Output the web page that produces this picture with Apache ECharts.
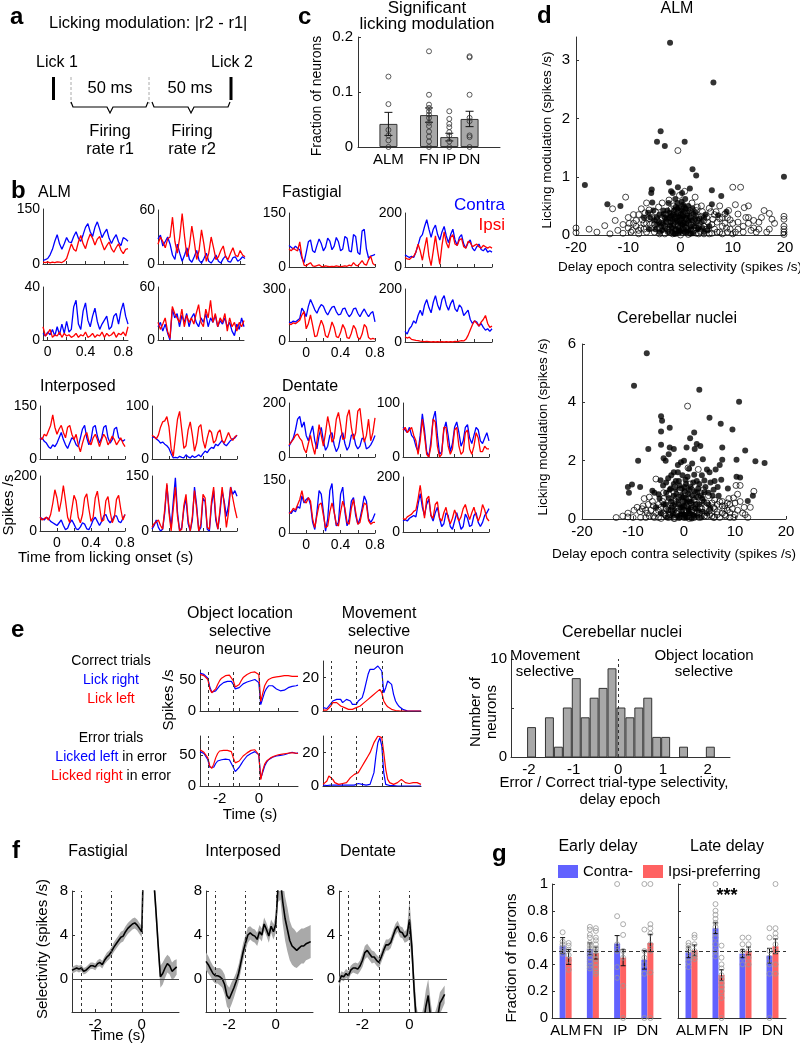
<!DOCTYPE html>
<html><head><meta charset="utf-8">
<script src="https://cdn.jsdelivr.net/npm/echarts@6/dist/echarts.min.js"></script>
<style>html,body{margin:0;padding:0;background:#fff}#c{width:800px;height:1044px}</style>
</head><body><div id="c"></div><script>
const FONT='"Liberation Sans", Arial, Helvetica, sans-serif';
const BLUE='#0000ff', RED='#ff0000';

// ---------- panel c data
const cCats=['ALM','FN','IP','DN'];
const cMean=[0.042,0.058,0.018,0.051];
const cSem=[0.021,0.013,0.007,0.014];
const cDots=[[0.128,0.078,0.031,0.021,0.012,0],
 [0.174,0.095,0.077,0.071,0.065,0.059,0.053,0.044,0.038,0.028,0.019,0.010,0],
 [0.065,0.051,0.042,0.036,0.027,0.021,0.010,0],
 [0.165,0.163,0.095,0.053,0.047,0.021,0.018,0]];

// ---------- panel d data
const dAlmSig=[[-2,3.3],[6.3,2.62],[-3.8,1.78],[-4.5,1.6],[-3,1.53],[0.8,1.6],[2.3,1.13],[3,1.02],[-2.2,0.9],[-18.3,0.86],[19.8,1.0],[-1.8,0.75],[-1.5,0.72],[-0.5,0.82],[0.3,0.72],[1.8,0.8],[6,0.77],[7.8,0.67],[-5.5,0.78],[-5.6,0.72],[-5.4,0.56],[-14,0.53],[-11.5,0.5],[6,0.53],[8.8,0.4],[-6.2,0.38],[-1,0.62],[0.2,0.57],[-0.3,0.47],[1,0.45],[-2.5,0.42],[-4,0.35],[2.5,0.36],[7.2,0.34],[-3,0.3],[0.5,0.32],[-1.5,0.27],[1.5,0.24],[-0.5,0.22],[3,0.2],[-2,0.16],[0.8,0.15],[-1,0.1],[2,0.1],[-3.5,0.08],[0,0.05],[1.2,0.05],[-0.8,0.36],[-1.2,0.43],[0.6,0.4],[-0.1,0.3],[-2.8,0.22],[-4.5,0.18],[-5,0.25],[4,0.22],[3.5,0.12],[-0.4,0.12],[0.3,0.18],[1.8,0.3],[-1.8,0.33],[-3.3,0.42],[2.8,0.28],[-0.6,0.55],[0.9,0.62],[-2.3,0.55],[1.5,0.5],[4.8,0.35],[-6,0.1],[5.5,0.15],[-7,0.3],[0.1,0.42],[-1.6,0.05],[2.4,0.03],[-4,0.05],[4.5,0.05],
 [-5.2,0.42],[-4.6,0.3],[-4.1,0.22],[-3.7,0.15],[-3.2,0.36],[-2.9,0.12],[-2.6,0.28],[-2.4,0.05],[-2.1,0.38],[-1.9,0.22],[-1.7,0.12],[-1.4,0.35],[-1.3,0.18],[-1.1,0.28],[-0.9,0.02],[-0.7,0.25],[-0.6,0.45],[-0.4,0.32],[-0.2,0.08],[0,0.2],[0.1,0.36],[0.3,0.28],[0.4,0.1],[0.6,0.22],[0.7,0.48],[0.9,0.3],[1.1,0.2],[1.3,0.33],[1.4,0.08],[1.6,0.4],[1.9,0.15],[2.1,0.25],[2.3,0.45],[2.6,0.15],[2.9,0.38],[3.3,0.1],[3.6,0.28],[4.2,0.12],[-3.4,0.2],[-2.2,0.3],[-0.3,0.05],[0.8,0.05],[-1.2,0.02],[1.9,0.02],[-5.8,0.3],[-4.8,0.1],[4.5,0.3],[5.2,0.08],[-0.9,0.48],[0.5,0.52]];
const dAlmNs=[[-0.5,1.45],[-20,0.12],[-20,0.04],[-17.5,0.1],[-14.5,0.16],[-13,0.45],[-12.5,0.25],[-10.5,0.65],[-7.5,0.45],[-7.3,0.26],[-6,0.43],[-10,0.12],[-9.5,0.05],[-8.5,0.15],[-8,0.08],[-11,0.03],[-9,0.2],[10,0.82],[11.5,0.82],[10.5,0.52],[12.2,0.47],[13,0.5],[11,0.36],[12.5,0.3],[14,0.25],[15.5,0.3],[16,0.42],[17,0.37],[17.5,0.27],[18,0.2],[19.8,0.32],[19.8,0.27],[19.8,0.15],[19.8,0.1],[19.8,0.05],[19.8,0.01],[15,0.1],[16.5,0.05],[13.5,0.08],[11,0.1],[9,0.05],[8,0.15],[7,0.22],[5.5,0.46],[4,0.5],[3,0.42],[5,0.3],[4.5,0.15],[9.5,0.26],[8.5,0.36],[6.5,0.1],[12,0.15],[14.5,0.05],[17,0.1],[10,0.2],[9.2,0.42],[7.5,0.5],[6.2,0.27],[2.2,0.55],[-2.2,0.6],[-3.5,0.55],[-4.8,0.4],[-5.5,0.3],[-6.5,0.2],[-7,0.1],[-5,0.05],[-3,0.02],[-1.5,0.02],[0,0.0],[1.5,0.01],[3,0.03],[4.5,0.02],[6,0.03],[7.5,0.05],[-4,0.12],[-2.5,0.1],[-1,0.18],[0.5,0.1],[2,0.18],[3.5,0.3],[2.5,0.08],[-3.8,0.25],[-2,0.3],[-0.5,0.38],[1,0.28],[1.2,0.38],[-1.3,0.5],[0.2,0.48],[1.8,0.42],[-2.8,0.35],[3.2,0.25],[4.2,0.4],[5.2,0.22],[6.8,0.4],[8,0.3],[-8,0.35],[-6.5,0.55],[-9,0.35],[-4.2,0.48],[0.8,0.75],[-0.2,0.68],[-1.8,0.45],[2.8,0.65],[0.5,0.2],[-0.8,0.08],[1,0.12],[3.8,0.06],[-5.8,0.18],[8.8,0.12],[10.5,0.05],[13,0.2],[15,0.22],[-12,0.08],[-13.5,0.02],[-16,0.05],
 [-11,0.18],[-10,0.3],[-9.2,0.08],[-8.5,0.25],[-7.6,0.12],[-7,0.2],[-6.5,0.05],[-6,0.28],[-5.5,0.12],[-5,0.18],[-4.5,0.26],[-4,0.02],[-3.5,0.3],[-3,0.15],[-2.5,0.22],[-2,0.05],[-1.5,0.15],[-1,0.3],[-0.5,0.15],[0,0.25],[0.5,0.35],[1,0.05],[1.5,0.2],[2,0.3],[2.5,0.25],[3,0.12],[3.5,0.02],[4,0.32],[4.5,0.25],[5,0.1],[5.5,0.02],[6,0.18],[6.5,0.35],[7,0.05],[7.5,0.28],[8,0.02],[8.5,0.2],[9,0.3],[9.5,0.1],[10,0.02],[11,0.22],[12,0.05],[13,0.3],[14,0.12],[-8,0.02],[-9.8,0.2],[-6.8,0.38],[5.8,0.4],[3.2,0.48],[-1.2,0.4]];
const dCnSig=[[-1.5,6.03],[-7.3,5.68],[-9.8,4.57],[3,4.43],[10.8,4.02],[-4.5,3.52],[-4.3,3.37],[-2.8,3.13],[-4.5,3.0],[5,3.47],[7.2,3.27],[9.5,3.07],[2,2.97],[1.2,2.77],[-4.5,2.55],[-7,2.4],[-2.8,2.45],[-2,2.4],[0.5,2.45],[2.5,2.57],[3.2,2.5],[2.1,2.4],[7.5,2.45],[12,2.35],[14,1.98],[15.8,1.92],[-9,2.0],[-4,2.08],[-3.6,2.0],[-3,2.22],[10.3,2.03],[7.5,2.03],[3.7,2.05],[0,2.0],[-0.6,1.95],[-1.2,1.85],[1.6,1.9],[1,1.72],[-2,1.6],[-2.5,1.5],[-3.1,1.4],[-11,1.1],[-10.8,0.9],[-10.2,1.18],[-8.6,1.1],[-6.2,0.97],[-5,0.85],[-4.1,1.15],[-4.6,1.33],[-3.5,1.25],[5,1.6],[6.2,1.7],[7,1.85],[7.3,1.35],[8.6,1.05],[10.3,1.45],[11,1.42],[12.5,0.62],[13.5,0.8],[5.2,1.25],[6.6,1.1],[4,1.32],[3,1.2],[2,1.52],[-1,1.3],[0.1,1.1],[-1.6,1.02],[1,1.0],[2.6,0.92],[4,0.92],[5.6,0.8],[-2,0.8],[-3,0.72],[-1.2,1.6],[0.7,1.45],[1.8,1.25],[-0.3,1.5],[3.5,1.5],[4.5,1.7],[-2.6,1.05],[6,1.3],[-0.5,0.8],[0.4,0.7],[1.5,0.6],[2.3,0.5],[-1,0.5],[-0.3,0.4],[0.8,0.35],[-1.8,0.3],[1.2,0.2],[-0.7,0.15],[2.8,0.3],[3.6,0.7],[-3.6,0.5],[-4.8,0.7],[0,0.6],[4.8,0.5],[6.8,0.8],[-5.5,0.4],[2,0.1],[-2.3,0.1],[0.3,0.05],
 [-4.5,0.2],[-4,0.5],[-3.5,0.9],[-3,0.3],[-2.8,1.0],[-2.5,0.6],[-2.2,0.2],[-2,1.2],[-1.8,0.5],[-1.5,0.85],[-1.3,0.1],[-1.1,0.65],[-0.9,1.15],[-0.7,0.4],[-0.5,1.05],[-0.4,0.25],[-0.2,0.75],[0,0.45],[0.1,0.95],[0.2,0.15],[0.4,1.2],[0.5,0.55],[0.6,0.05],[0.8,0.85],[0.9,0.3],[1.1,0.6],[1.3,1.1],[1.4,0.4],[1.6,0.8],[1.8,0.15],[2,0.95],[2.2,0.35],[2.4,0.75],[2.6,0.1],[2.8,1.05],[3,0.5],[3.3,0.8],[3.6,0.25],[3.9,0.6],[4.2,1.1],[4.5,0.2],[4.8,0.9],[5.2,0.35],[-3.3,0.05],[-0.8,0.05],[1.5,0.02],[-1.6,1.3],[0.3,1.35],[2.5,1.3],[-5.8,0.9],[5.8,1.0],[-2.4,0.4],[-0.1,0.15],[1,0.2],[3.4,0.05]];
const dCnNs=[[0.7,3.87],[-5.5,1.37],[2.8,1.7],[0.8,1.75],[-13.3,0.05],[-11,0.2],[-11,0.07],[-9.2,0.4],[-8.6,0.25],[-8.2,0.35],[-7.2,0.2],[-7,0.5],[-6.2,0.6],[-6.5,0.3],[-6,0.1],[-5,0.3],[-4.5,0.02],[10.5,0.85],[9.7,0.72],[10.2,1.15],[11,1.15],[13.7,0.95],[13,0.4],[12.5,0.05],[11.5,0.2],[10,0.55],[11,0.6],[9,0.5],[8.5,0.3],[8,0.45],[7,0.6],[7.5,0.2],[9,0.22],[6,0.35],[5,0.15],[-7.5,0.05],[-8,0.45],[-5.8,0.05],[-3.2,0.3],[-2.5,0.55],[-1.5,0.7],[0.2,0.9],[1.5,1.0],[2.8,0.75],[4.2,0.4],[3,0.05],[1,0.02],[-1,0.05],[-2,0.02],[4.5,0.1],[6,0.06],[7.5,0.6],[8.2,0.1],[10.5,0.3],[12,0.15],[-4,0.2],[-3.5,0.1],[-1.3,0.25],[-0.5,0.1],[0.5,0.25],[1.8,0.4],[2.5,0.2],[3.5,0.35],[5.5,0.55],[6.5,0.15],[-2.2,0.45],[-4.2,0.6],[-0.2,0.6],[1.3,0.55],[3.2,0.9],[4.8,0.8],[-5,0.5],[-6.8,0.75],[-3,0.85],[9.8,0.05],[8.8,0.7],[7.8,0.35],[-9.8,0.3],[-12,0.1],[-10,0.05],[-2.8,0.15],[0,0.3],[2,0.65],[5.8,0.05],[11.8,0.4],[-7.8,0.7],[-1.8,1.1],[1.2,1.2],[-0.8,1.0],[3.8,1.0],[-8.5,0.05],[-4,0.9],[6.5,0.5],
 [-7.5,0.3],[-6.8,0.1],[-6,0.45],[-5.5,0.2],[-5,0.05],[-4.5,0.4],[-4,0.7],[-3.5,0.35],[-3,0.05],[-2.5,0.3],[-2,0.6],[-1.5,0.2],[-1,0.75],[-0.5,0.3],[0,0.05],[0.5,0.45],[1,0.7],[1.5,0.3],[2,0.05],[2.5,0.5],[3,0.2],[3.5,0.65],[4,0.1],[4.5,0.55],[5,0.3],[5.5,0.1],[6,0.65],[6.5,0.25],[7,0.05],[7.5,0.45],[8,0.15],[8.5,0.55],[9,0.05],[9.5,0.35],[10,0.15],[-1.8,0.02],[0.8,0.1],[3.2,0.4],[-3.8,0.15],[5.8,0.4]];

// ---------- panel b data (time from licking onset, s)
const tAlmB=[-0.05,-0.025,0,0.025,0.05,0.075,0.1,0.125,0.15,0.175,0.2,0.225,0.25,0.275,0.3,0.325,0.35,0.375,0.4,0.425,0.45,0.475,0.5,0.525,0.55,0.575,0.6,0.625,0.65,0.675,0.7,0.725,0.75,0.775,0.8,0.825,0.85];
const tB=[-0.2,-0.175,-0.15,-0.125,-0.1,-0.075,-0.05,-0.025,0,0.025,0.05,0.075,0.1,0.125,0.15,0.175,0.2,0.225,0.25,0.275,0.3,0.325,0.35,0.375,0.4,0.425,0.45,0.475,0.5,0.525,0.55,0.575,0.6,0.625,0.65,0.675,0.7,0.725,0.75,0.775,0.8];
const alm1Blue=[10,12,15,25,40,62,80,55,40,55,72,60,58,75,88,70,62,80,100,110,88,75,100,115,95,72,85,95,70,56,70,80,60,50,72,68,62];
const alm1Red=[5,4,6,3,5,4,6,5,4,8,15,35,55,40,35,60,78,55,42,65,82,70,52,68,75,55,38,50,60,42,32,45,55,38,28,40,42];
const alm2Blue=[28,32,20,25,30,22,10,5,22,12,3,10,18,5,2,8,15,4,1,6,12,3,1,5,10,3,1,6,9,3,2,7,8,3,5,8,6];
const alm2Red=[22,30,25,18,28,30,52,25,12,30,56,30,8,20,42,25,5,15,38,22,3,12,30,18,5,8,15,20,8,5,12,18,10,8,15,10,8];
const alm3Blue=[5,3,6,4,8,3,10,4,12,5,14,6,8,25,30,12,8,22,28,15,10,18,24,14,8,12,15,18,8,10,18,20,12,22,28,18,12];
const alm3Red=[10,3,5,8,2,4,3,6,2,5,3,4,2,3,5,2,4,3,6,2,3,5,2,4,3,6,2,5,3,4,6,2,5,4,6,3,10];
const alm4Blue=[15,20,10,18,8,0,35,25,30,15,28,20,30,15,25,30,20,15,25,20,30,15,25,20,28,15,22,18,25,15,20,10,5,18,12,25,15];
const alm4Red=[20,12,18,25,10,2,38,30,25,20,35,15,28,20,25,18,30,40,20,15,35,25,45,20,30,15,25,20,30,10,25,15,20,10,20,15,22];
const fn1Blue=[60,55,50,58,52,48,25,12,40,70,75,45,40,60,78,65,45,55,80,72,48,58,82,70,45,50,85,80,45,42,90,85,40,35,100,105,50,25,30,32,35];
const fn1Red=[50,45,52,48,45,70,30,5,3,8,12,3,2,4,6,2,1,3,2,1,2,1,3,2,1,2,3,2,5,3,12,5,3,10,18,8,5,20,30,10,5];
const fn2Blue=[45,40,35,40,35,55,80,110,120,150,175,140,110,140,155,120,100,130,150,115,90,120,140,100,80,110,120,85,70,90,100,70,60,75,85,65,60,70,55,60,55];
const fn2Red=[35,30,28,35,40,55,85,60,25,70,110,40,5,60,115,60,10,80,130,90,70,110,120,85,80,100,105,75,70,95,90,75,80,85,75,70,80,75,70,75,70];
const fn3Blue=[110,105,115,110,120,130,190,170,140,200,240,210,180,160,190,210,200,170,150,175,195,200,170,150,155,185,190,160,140,155,185,190,160,140,165,185,160,140,160,170,110];
const fn3Red=[100,95,105,100,110,120,150,170,70,100,150,90,25,30,80,120,90,30,20,60,110,80,25,20,50,95,70,20,15,45,90,70,20,10,40,95,80,20,10,15,10];
const fn4Blue=[40,30,50,60,80,70,100,120,100,140,160,130,110,150,175,140,120,160,175,140,120,145,160,125,115,140,130,100,110,120,85,70,80,75,60,70,55,45,50,40,50];
const fn4Red=[20,15,18,10,8,6,5,3,2,1,2,1,0,1,0,1,0,1,0,1,0,1,0,2,1,3,5,4,10,25,45,65,80,70,60,75,85,100,70,55,60];
const ip1Blue=[55,60,50,45,35,30,40,35,45,60,75,55,40,30,45,60,55,40,35,60,85,95,60,40,55,90,95,65,45,60,90,95,60,45,55,85,90,60,55,50,55];
const ip1Red=[60,55,70,65,80,95,125,90,70,85,95,75,60,90,95,70,55,70,40,20,45,65,75,50,40,60,70,55,35,55,70,60,40,50,65,55,40,50,60,45,35];
const ip2Blue=[40,42,38,35,30,32,28,25,20,10,2,3,2,5,3,2,8,4,2,6,3,5,8,4,10,15,12,18,22,20,28,25,30,35,28,25,30,35,38,40,45];
const ip2Red=[45,42,38,45,60,70,72,80,60,20,5,40,75,90,55,20,25,55,70,45,15,30,60,65,35,20,40,55,50,30,35,50,55,35,30,40,50,40,35,42,45];
const ip3Blue=[50,45,40,50,45,35,30,25,20,30,40,20,5,10,30,40,25,8,5,15,30,25,8,5,20,40,50,35,20,35,55,60,40,30,40,55,55,35,30,45,60];
const ip3Red=[50,40,45,50,40,60,100,150,120,70,110,165,110,50,30,80,130,110,50,30,60,120,135,80,35,50,120,145,90,35,40,110,125,70,30,50,115,130,80,40,60];
const ip4Blue=[5,15,30,10,0,5,50,125,60,10,80,145,50,0,10,60,90,20,0,30,120,70,0,10,90,80,5,0,70,110,30,5,50,110,80,40,70,120,100,110,95];
const ip4Red=[10,20,25,30,15,5,60,130,50,0,60,120,40,0,5,70,100,30,0,40,110,60,0,20,100,90,10,5,80,120,40,5,60,120,70,10,50,120,90,60,35];
const dn1Blue=[40,55,70,100,140,150,110,130,80,60,90,115,60,30,80,110,60,25,40,80,90,45,20,35,75,90,50,25,40,80,85,45,30,40,70,65,30,35,45,60,80];
const dn1Red=[45,55,65,80,85,70,60,30,15,50,80,40,10,60,120,80,40,90,150,110,55,70,140,165,120,65,70,150,175,110,65,90,170,180,110,55,80,140,60,90,145];
const dn2Blue=[55,50,45,55,40,35,20,10,40,80,50,10,0,30,70,85,40,5,10,50,65,40,10,25,55,65,45,20,30,55,60,35,25,40,55,50,30,25,35,45,30];
const dn2Red=[50,55,45,50,55,40,30,5,30,70,40,5,0,20,70,65,20,0,5,55,55,20,5,15,50,55,20,5,10,45,50,15,5,20,45,35,10,10,20,15,15];
const dn3Blue=[60,55,65,60,75,70,105,85,95,100,80,30,10,60,120,110,60,5,40,120,140,60,20,30,110,130,60,20,40,90,100,50,25,40,70,105,90,40,30,40,55];
const dn3Red=[55,60,70,65,80,95,120,90,85,100,90,40,15,50,80,85,50,15,20,60,85,60,25,20,60,90,70,30,25,70,95,60,25,30,60,85,80,35,25,30,30];
const dn4Blue=[40,45,40,50,55,60,55,100,140,90,60,100,120,60,40,70,90,50,20,30,70,60,20,10,40,70,40,10,20,65,50,20,25,60,70,35,20,35,60,70,85];
const dn4Red=[50,45,55,60,65,75,80,120,170,110,50,120,130,60,50,100,110,50,40,70,90,50,30,50,80,60,40,55,85,100,70,45,70,90,60,40,60,100,80,50,40];

// ---------- panel e data (time from go cue, s)
const tE=[-3,-2.9,-2.8,-2.7,-2.6,-2.5,-2.4,-2.3,-2.2,-2.1,-2,-1.9,-1.8,-1.7,-1.6,-1.5,-1.4,-1.3,-1.2,-1.1,-1,-0.9,-0.8,-0.7,-0.6,-0.5,-0.4,-0.3,-0.2,-0.1,0,0.1,0.2,0.3,0.4,0.5,0.6,0.7,0.8,0.9,1,1.1,1.2,1.3,1.4,1.5,1.6,1.7,1.8,1.9,2];
const objCorrBlue=[60,59,58,56,52,38,30,30,32,36,40,43,45,46,47,48,47,42,35,34,37,40,43,45,46,47,48,49,50,51,45,10,20,30,36,40,41,40,38,35,33,32,32,33,35,37,38,39,40,40,41];
const objCorrRed=[58,57,56,55,50,35,29,30,35,42,48,52,54,56,57,57,56,48,38,37,42,48,53,56,58,60,61,62,62,63,58,15,28,40,46,50,52,53,54,54,55,55,55,56,56,56,56,55,56,55,55];
const objErrBlue=[55,54,52,50,42,30,27,30,36,40,42,42,43,43,42,42,40,30,23,25,30,35,40,44,48,50,52,54,55,56,50,12,22,32,38,42,45,46,47,48,48,49,50,50,51,52,53,54,53,52,53];
const objErrRed=[58,56,54,52,45,32,28,35,45,52,56,57,57,57,57,56,55,45,37,37,40,44,48,51,53,55,57,58,58,59,50,10,25,35,40,43,45,47,48,49,50,50,51,51,52,52,53,53,53,52,52];
const movCorrBlue=[2,2,1.5,3,4,6,5,7,8,7,5,6,7,8,6,4,5,4,6,7,8,12,17,22,25,26,25,26,27,26,24,11,14,18,19,16,10,6,4,2.5,1.5,0.8,0.3,0.1,0,0,0,0,0,0,0];
const movCorrRed=[0.5,0.5,0.5,1.5,3,5,6,5,4,3,2.5,2,1.5,1,0.8,1,1.5,2,2.5,3,4,5,6,7,8,9,10,11,12,13,11,6,4,2.5,1.5,1,0.5,0.3,0.2,0.1,0,0,0,0,0,0,0,0,0,0,0];
const movErrBlue=[0.5,0.5,0.3,0.5,0.5,0.3,0.5,0.3,0.5,0.3,0.5,0.3,0.5,0.3,0.5,0.3,0.5,1,1.5,1.5,1,0.5,0.5,0.5,1,2,8,18,26,29,24,8,1,0.5,0.3,0.3,0.2,0.1,0,0,0,0,0,0,0,0,0,0,0,0,0];
const movErrRed=[1,1,3,6,7,4,2,1.5,1,1,1.5,1.5,2,3,5,6,7,8,8,9,12,14,16,18,20,23,26,28,30,31,29,20,10,4,2,1.5,1,1.5,2,3,4,3,2,2,1.5,1.5,2,2.5,2,1.5,1];
const histCenters=[-1.94,-1.54,-1.34,-1.14,-0.94,-0.74,-0.54,-0.34,-0.14,0.06,0.26,0.46,0.66,0.86,1.06,1.46,2.06];
const histCounts=[3,4,1,5,8,4,6,7,9,5,4,5,6,2,2,1,1];

// ---------- panel f data
const tF=[-3,-2.9,-2.8,-2.7,-2.6,-2.5,-2.4,-2.3,-2.2,-2.1,-2,-1.9,-1.8,-1.7,-1.6,-1.5,-1.4,-1.3,-1.2,-1.1,-1,-0.9,-0.8,-0.7,-0.6,-0.5,-0.4,-0.3,-0.2,-0.1,0,0.1,0.2,0.3,0.4,0.5,0.6,0.7,0.8,0.9,1,1.1,1.2,1.3,1.4,1.5];
const fastMean=[0.8,0.9,1.0,0.9,1.0,0.7,0.8,1.0,1.2,1.2,1.1,1.4,1.5,1.3,1.7,2.0,2.2,2.5,2.9,3.2,3.5,3.8,3.9,4.3,4.6,4.8,5.0,5.1,4.9,4.6,4.3,13,17,19,16,9.5,6.5,3.2,0.2,0.5,1.0,1.4,1.2,0.7,0.9,1.1];
const fastSem=[0.3,0.3,0.3,0.3,0.3,0.3,0.3,0.3,0.3,0.3,0.3,0.3,0.35,0.35,0.35,0.4,0.4,0.4,0.45,0.45,0.45,0.5,0.5,0.5,0.5,0.5,0.5,0.5,0.5,0.5,0.5,1,1,1,1,1,1,1,1,1,0.9,0.8,0.8,0.8,0.8,0.7];
const interpMean=[1.6,1.3,0.9,0.5,0.3,0.3,0.2,0.0,-0.5,-1.5,-1.8,-1.3,-0.8,-0.2,0.5,1.5,2.5,3.3,4.0,4.2,4.0,3.9,3.6,4.3,4.0,5.0,4.5,3.9,4.8,4.3,5.0,8.5,9.0,7.0,5.5,4.5,3.5,3.0,2.8,2.6,2.8,3.0,3.0,3.2,3.3,3.4];
const interpSem=[0.8,0.8,0.7,0.7,0.7,0.7,0.8,0.8,0.9,1.0,1.0,1.0,0.9,0.8,0.8,0.8,0.8,0.7,0.7,0.6,0.6,0.6,0.6,0.6,0.6,0.6,0.6,0.6,0.6,0.7,0.8,1.5,1.8,2.0,2.0,2.0,1.8,1.7,1.7,1.6,1.6,1.6,1.6,1.5,1.5,1.5];
const dentMean=[-0.3,0.3,0.2,0.5,0.3,0.8,1.0,1.0,0.9,1.2,1.7,2.4,2.6,2.3,2.0,2.0,1.7,1.5,2.0,2.6,3.1,3.1,3.3,3.9,4.5,4.8,4.3,4.2,3.8,4.0,5.4,3.0,-1.0,-4.0,-5.0,-5.0,-4.0,-2.5,-1.5,-3.5,-5.0,-4.5,-3.5,-2.2,-1.8,-1.4];
const dentSem=[0.4,0.4,0.4,0.4,0.4,0.4,0.4,0.5,0.5,0.5,0.6,0.6,0.6,0.6,0.6,0.5,0.5,0.5,0.5,0.5,0.5,0.5,0.5,0.5,0.5,0.5,0.5,0.5,0.5,0.6,1.8,1.5,1.5,1.5,1.5,1.5,1.5,1.5,1.5,1.5,1.5,1.5,1.2,1.0,0.9,0.8];

// ---------- panel g data
const gCats=['ALM','FN','IP','DN'];
const gEarlyContra=[0.54,0.515,0.555,0.435], gEarlyContraSem=[0.06,0.045,0.06,0.07];
const gEarlyIpsi=[0.455,0.485,0.45,0.56], gEarlyIpsiSem=[0.055,0.045,0.06,0.065];
const gLateContra=[0.49,0.67,0.48,0.465], gLateContraSem=[0.04,0.04,0.03,0.055];
const gLateIpsi=[0.505,0.32,0.5,0.535], gLateIpsiSem=[0.04,0.04,0.03,0.055];
const gEarlyContraDots=[[0.64,0.57,0.55,0.52,0.5,0.48],[0.68,0.66,0.62,0.6,0.56,0.54,0.52,0.5,0.48,0.45,0.42,0.39,0.37],[1.0,0.76,0.55,0.5,0.38,0.3],[1.0,0.66,0.5,0.45,0.4,0.33,0]];
const gEarlyIpsiDots=[[0.56,0.54,0.51,0.47,0.43,0.36],[0.67,0.65,0.6,0.58,0.55,0.52,0.5,0.47,0.44,0.41,0.38,0.35,0.33],[0.7,0.62,0.5,0.45,0.24,0],[1.0,0.7,0.67,0.63,0.55,0.5,0.34,0]];
const gLateContraDots=[[0.56,0.54,0.52,0.5,0.45,0.42,0.38],[1.0,0.85,0.8,0.77,0.74,0.71,0.68,0.63,0.6,0.55,0.5,0.46],[0.6,0.55,0.5,0.45,0.4],[0.67,0.6,0.5,0.45,0.4,0.33,0]];
const gLateIpsiDots=[[0.62,0.6,0.55,0.5,0.48,0.46,0.44],[0.54,0.45,0.4,0.37,0.32,0.29,0.26,0.23,0.2,0.15,0],[0.6,0.55,0.5,0.45,0.4],[1.0,0.67,0.63,0.6,0.55,0.5,0.4,0.33]];

// ================= builders
const grids=[], xAxes=[], yAxes=[], series=[], graphics=[];
function addGrid(box, xa, ya){
  const gi=grids.length;
  grids.push({left:box[0],top:box[1],width:box[2],height:box[3],containLabel:false,outerBoundsMode:'none'});
  xa.gridIndex=gi; ya.gridIndex=gi; xAxes.push(xa); yAxes.push(ya); return gi;
}
function vAxis(min,max,p){
  p=p||{};
  const a={type:'value',min:min,max:max,splitLine:{show:false},
    axisLine:{show:true,onZero:false,lineStyle:{color:'#333',width:1}},
    axisTick:{show:p.tick!==false,inside:true,length:3,lineStyle:{color:'#333',width:1}},
    axisLabel:{show:p.showLabel!==false,fontFamily:FONT,fontSize:p.fs||13,color:'#000',margin:p.margin||4,showMinLabel:true,showMaxLabel:true,hideOverlap:false}};
  if(p.interval!=null) a.interval=p.interval;
  if(p.labels) a.axisLabel.customValues=p.labels;
  if(p.ticks) a.axisTick.customValues=p.ticks;
  return a;
}
function cAxis(cats,p){
  p=p||{};
  return {type:'category',data:cats,boundaryGap:true,
    axisLine:{show:true,onZero:false,lineStyle:{color:'#333',width:1}},axisTick:{show:false},
    axisLabel:{show:true,fontFamily:FONT,fontSize:p.fs||15,color:'#000',margin:p.margin||5,interval:0}};
}
function lineS(gi,t,v,color,w){
  return {type:'line',xAxisIndex:gi,yAxisIndex:gi,data:t.map((x,i)=>[x,v[i]]),showSymbol:false,symbol:'none',
    lineStyle:{color:color,width:w||1.2},itemStyle:{color:color},silent:true,clip:true,z:3};
}
function T(x,y,text,o){
  o=o||{};
  const st={text:text,fill:o.color||'#000',font:(o.bold?'bold ':'')+(o.fs||15)+'px '+FONT,
    align:o.align||'center',verticalAlign:'middle',textAlign:o.align||'center',textVerticalAlign:'middle'};
  if(o.rich) st.rich=o.rich;
  return {type:'text',x:x,y:y,rotation:o.rot||0,z:100,silent:true,style:st};
}
function errBar(gi,mean,sem,off,hw){
  return {type:'custom',xAxisIndex:gi,yAxisIndex:gi,z:5,silent:true,
    data:mean.map((m,i)=>[i,m,sem[i]]),
    renderItem:function(params,api){
      const x=api.value(0),m=api.value(1),s=api.value(2);
      const a=api.coord([x,m+s]),b=api.coord([x,m-s]);
      const cx=a[0]+off, st={stroke:'#111',lineWidth:1};
      return {type:'group',children:[
        {type:'line',shape:{x1:cx,y1:a[1],x2:cx,y2:b[1]},style:st},
        {type:'line',shape:{x1:cx-hw,y1:a[1],x2:cx+hw,y2:a[1]},style:st},
        {type:'line',shape:{x1:cx-hw,y1:b[1],x2:cx+hw,y2:b[1]},style:st}]};
    }};
}
const dash={type:[3,3],color:'#333',width:1};

// ================= panel a (schematic)
graphics.push(T(10,17,'a',{bold:true,fs:24,align:'left'}));
graphics.push(T(49,23,'Licking modulation: |r2 - r1|',{fs:16.5,align:'left'}));
graphics.push(T(57,63,'Lick 1',{fs:16}));
graphics.push(T(232,63,'Lick 2',{fs:16}));
graphics.push({type:'rect',shape:{x:52,y:77,width:3,height:23},style:{fill:'#000'}});
graphics.push({type:'rect',shape:{x:229.5,y:77,width:3,height:23},style:{fill:'#000'}});
graphics.push({type:'line',shape:{x1:71,y1:77,x2:71,y2:104},style:{stroke:'#aaa',lineWidth:1,lineDash:[3,2]}});
graphics.push({type:'line',shape:{x1:149,y1:77,x2:149,y2:104},style:{stroke:'#aaa',lineWidth:1,lineDash:[3,2]}});
graphics.push(T(110,88,'50 ms',{fs:16.5}));
graphics.push(T(190,88,'50 ms',{fs:16.5}));
graphics.push({type:'polyline',shape:{points:[[71,102],[73,107],[107,107],[110,113],[113,107],[146,107],[148,102]]},style:{stroke:'#000',lineWidth:1.2,fill:null}});
graphics.push({type:'polyline',shape:{points:[[152,102],[154,107],[188,107],[191,113],[194,107],[228,107],[230,102]]},style:{stroke:'#000',lineWidth:1.2,fill:null}});
graphics.push(T(110,131,'Firing',{fs:16.5}));
graphics.push(T(110,149,'rate r1',{fs:16.5}));
graphics.push(T(192,131,'Firing',{fs:16.5}));
graphics.push(T(192,149,'rate r2',{fs:16.5}));

// ================= panel c
graphics.push(T(298,17,'c',{bold:true,fs:24,align:'left'}));
graphics.push(T(427,8,'Significant',{fs:17}));
graphics.push(T(427,24,'licking modulation',{fs:17}));
graphics.push(T(317,96,'Fraction of neurons',{fs:14,rot:Math.PI/2}));
const cAxisCats=['',cCats[0],'',cCats[1],cCats[2],cCats[3],''];
const cIdx=cCats.map(c=>cAxisCats.indexOf(c));
{
  const gi=addGrid([358,37,142,110],cAxis(cAxisCats,{fs:15,margin:5}),vAxis(0,0.2,{interval:0.1,fs:15,margin:5}));
  series.push({type:'bar',xAxisIndex:gi,yAxisIndex:gi,barWidth:18,silent:true,
    data:cAxisCats.map(c=>{const k=cCats.indexOf(c);return k<0?null:cMean[k];}),
    itemStyle:{color:'#a8a8a8',borderColor:'#333',borderWidth:1}});
  series.push({type:'custom',xAxisIndex:gi,yAxisIndex:gi,z:5,silent:true,
    data:cMean.map((m,i)=>[cIdx[i],m,cSem[i]]),
    renderItem:function(params,api){
      const x=api.value(0),m=api.value(1),s=api.value(2);
      const a=api.coord([x,m+s]),b=api.coord([x,m-s]),st={stroke:'#111',lineWidth:1},hw=4;
      return {type:'group',children:[
        {type:'line',shape:{x1:a[0],y1:a[1],x2:a[0],y2:b[1]},style:st},
        {type:'line',shape:{x1:a[0]-hw,y1:a[1],x2:a[0]+hw,y2:a[1]},style:st},
        {type:'line',shape:{x1:a[0]-hw,y1:b[1],x2:a[0]+hw,y2:b[1]},style:st}]};
    }});
  const pts=[]; cDots.forEach((arr,k)=>arr.forEach(v=>pts.push([cIdx[k],v])));
  series.push({type:'scatter',xAxisIndex:gi,yAxisIndex:gi,z:6,silent:true,data:pts,symbolSize:5,
    itemStyle:{color:'rgba(255,255,255,0)',borderColor:'#333',borderWidth:1}});
}

// ================= panel d
graphics.push(T(537,16,'d',{bold:true,fs:24,align:'left'}));
graphics.push(T(677,9,'ALM',{fs:16}));
graphics.push(T(677,319,'Cerebellar nuclei',{fs:16}));
graphics.push(T(680,267,'Delay epoch contra selectivity (spikes /s)',{fs:13.5}));
graphics.push(T(674,554,'Delay epoch contra selectivity (spikes /s)',{fs:13.5}));
graphics.push(T(547,140,'Licking modulation (spikes /s)',{fs:13.5,rot:Math.PI/2}));
graphics.push(T(543,427,'Licking modulation (spikes /s)',{fs:13.5,rot:Math.PI/2}));
function scat(gi,pts,filled){
  return {type:'scatter',xAxisIndex:gi,yAxisIndex:gi,data:pts,symbolSize:6,silent:true,z:filled?4:3,
    itemStyle:filled?{color:'#000'}:{color:'rgba(255,255,255,0)',borderColor:'#000',borderWidth:0.9}};
}
{
  const g1=addGrid([576,37,209,198],vAxis(-20,20,{interval:10,fs:15,margin:5}),vAxis(0,3.4,{labels:[0,1,2,3],ticks:[0,1,2,3],fs:15,margin:6}));
  series.push(scat(g1,dAlmNs,false)); series.push(scat(g1,dAlmSig,true));
  const g2=addGrid([582,344,204,175],vAxis(-20,20,{interval:10,fs:15,margin:5}),vAxis(0,6,{interval:2,fs:15,margin:6}));
  series.push(scat(g2,dCnNs,false)); series.push(scat(g2,dCnSig,true));
}

// ================= panel b
graphics.push(T(11,191,'b',{bold:true,fs:24,align:'left'}));
graphics.push(T(38,193,'ALM',{fs:16,align:'left'}));
graphics.push(T(282,193,'Fastigial',{fs:16,align:'left'}));
graphics.push(T(40,387,'Interposed',{fs:16,align:'left'}));
graphics.push(T(282,387,'Dentate',{fs:16,align:'left'}));
graphics.push(T(505,205,'Contra',{fs:17,color:BLUE,align:'right'}));
graphics.push(T(505,225,'Ipsi',{fs:17,color:RED,align:'right'}));
graphics.push(T(9,505,'Spikes /s',{fs:15,rot:Math.PI/2}));
graphics.push(T(18,558,'Time from licking onset (s)',{fs:15,align:'left'}));
const bPanels=[
  {box:[43,209,85,55],t:tAlmB,alm:true,ymax:150,b:alm1Blue,r:alm1Red},
  {box:[158,210,87,54],t:tAlmB,alm:true,ymax:60,b:alm2Blue,r:alm2Red},
  {box:[43,287,85,53],t:tAlmB,alm:true,ymax:40,b:alm3Blue,r:alm3Red,xl:true},
  {box:[158,287,86,53],t:tAlmB,alm:true,ymax:60,b:alm4Blue,r:alm4Red},
  {box:[289,213,86,54],t:tB,ymax:150,b:fn1Blue,r:fn1Red},
  {box:[405,213,87,54],t:tB,ymax:200,b:fn2Blue,r:fn2Red},
  {box:[289,289,86,52],t:tB,ymax:300,b:fn3Blue,r:fn3Red,xl:true},
  {box:[405,289,87,53],t:tB,ymax:200,b:fn4Blue,r:fn4Red},
  {box:[40,406,85,53],t:tB,ymax:150,b:ip1Blue,r:ip1Red},
  {box:[152,406,85,53],t:tB,ymax:100,b:ip2Blue,r:ip2Red},
  {box:[40,476,85,55],t:tB,ymax:200,b:ip3Blue,r:ip3Red,xl:true},
  {box:[152,476,85,55],t:tB,ymax:150,b:ip4Blue,r:ip4Red},
  {box:[289,403,86,54],t:tB,ymax:200,b:dn1Blue,r:dn1Red},
  {box:[403,403,86,54],t:tB,ymax:100,b:dn2Blue,r:dn2Red},
  {box:[289,480,86,53],t:tB,ymax:150,b:dn3Blue,r:dn3Red,xl:true},
  {box:[403,477,86,55],t:tB,ymax:200,b:dn4Blue,r:dn4Red}
];
bPanels.forEach(p=>{
  const xa=vAxis(p.alm?-0.05:-0.2,p.alm?0.85:0.8,{labels:[0,0.4,0.8],ticks:[0,0.2,0.4,0.6,0.8],showLabel:!!p.xl,fs:14,margin:5});
  const ya=vAxis(0,p.ymax,{interval:p.ymax,fs:14,margin:3,tick:false});
  const gi=addGrid(p.box,xa,ya);
  series.push(lineS(gi,p.t,p.b,BLUE,1.3));
  series.push(lineS(gi,p.t,p.r,RED,1.3));
});

// ================= panel e
graphics.push(T(11,630,'e',{bold:true,fs:24,align:'left'}));
graphics.push(T(240,614,'Object location',{fs:16}));
graphics.push(T(240,632,'selective',{fs:16}));
graphics.push(T(240,650,'neuron',{fs:16}));
graphics.push(T(379,614,'Movement',{fs:16}));
graphics.push(T(379,632,'selective',{fs:16}));
graphics.push(T(379,650,'neuron',{fs:16}));
graphics.push(T(111,661,'Correct trials',{fs:14}));
graphics.push(T(111,680,'Lick right',{fs:14,color:BLUE}));
graphics.push(T(111,699,'Lick left',{fs:14,color:RED}));
graphics.push(T(111,738,'Error trials',{fs:14}));
graphics.push(T(111,757,'{b|Licked left} in error',{fs:14,rich:{b:{fill:BLUE,font:'14px '+FONT}}}));
graphics.push(T(111,776,'{r|Licked right} in error',{fs:14,rich:{r:{fill:RED,font:'14px '+FONT}}}));
graphics.push(T(169,700,'Spikes /s',{fs:15,rot:Math.PI/2}));
graphics.push(T(250,815,'Time (s)',{fs:15}));
function eMark(){return {silent:true,symbol:['none','none'],label:{show:false},lineStyle:dash,data:[{xAxis:-2.6},{xAxis:-1.3},{xAxis:0}]};}
const ePanels=[
  {box:[200,670,98,41],ymax:65,lab:[0,50],b:objCorrBlue,r:objCorrRed},
  {box:[200,736,98,50],ymax:80,lab:[0,50],b:objErrBlue,r:objErrRed,xl:true},
  {box:[323,661,98,50],ymax:30,lab:[0,20],b:movCorrBlue,r:movCorrRed},
  {box:[323,736,98,50],ymax:30,lab:[0,20],b:movErrBlue,r:movErrRed}
];
ePanels.forEach(p=>{
  const gi=addGrid(p.box,vAxis(-3,2,{labels:[-2,0],ticks:[-2,-1,0,1],showLabel:!!p.xl,fs:15,margin:5}),vAxis(0,p.ymax,{labels:p.lab,ticks:p.lab,fs:15,margin:4}));
  const sb=lineS(gi,tE,p.b,BLUE,1.2); sb.markLine=eMark(); series.push(sb);
  series.push(lineS(gi,tE,p.r,RED,1.2));
});
// histogram
graphics.push(T(622,633,'Cerebellar nuclei',{fs:16}));
graphics.push(T(545,656,'Movement',{fs:15}));
graphics.push(T(545,672,'selective',{fs:15}));
graphics.push(T(704,656,'Object location',{fs:15}));
graphics.push(T(704,672,'selective',{fs:15}));
graphics.push(T(476,712,'Number of',{fs:15,rot:Math.PI/2}));
graphics.push(T(492,712,'neurons',{fs:15,rot:Math.PI/2}));
graphics.push(T(614,783,'Error / Correct trial-type selectivity,',{fs:15}));
graphics.push(T(620,800,'delay epoch',{fs:15}));
{
  const gi=addGrid([511,659,219,98],vAxis(-2.4,2.5,{labels:[-2,-1,0,1,2],ticks:[-2,-1,0,1,2],fs:15,margin:5}),vAxis(0,10,{labels:[0,10],ticks:[0,5,10],fs:15,margin:4}));
  series.push({type:'custom',xAxisIndex:gi,yAxisIndex:gi,silent:true,z:3,
    data:histCenters.map((c,i)=>[c,histCounts[i]]),
    renderItem:function(params,api){
      const c=api.value(0),n=api.value(1);
      const a=api.coord([c-0.1,n]),b=api.coord([c+0.1,0]);
      return {type:'rect',shape:{x:a[0]+0.5,y:a[1],width:b[0]-a[0]-1,height:b[1]-a[1]},style:{fill:'#a8a8a8',stroke:'#333',lineWidth:1}};
    },
    markLine:{silent:true,symbol:['none','none'],label:{show:false},lineStyle:dash,data:[{xAxis:0}]}});
}

// ================= panel f
graphics.push(T(12,851,'f',{bold:true,fs:24,align:'left'}));
graphics.push(T(98,852,'Fastigial',{fs:16}));
graphics.push(T(243,852,'Interposed',{fs:16}));
graphics.push(T(368,852,'Dentate',{fs:16}));
graphics.push(T(43,949,'Selectivity (spikes /s)',{fs:15,rot:Math.PI/2}));
graphics.push(T(118,1036,'Time (s)',{fs:15}));
const fPanels=[
  {box:[72,891,107,121],m:fastMean,s:fastSem},
  {box:[206,891,107,121],m:interpMean,s:interpSem},
  {box:[339,891,108,121],m:dentMean,s:dentSem}
];
fPanels.forEach(p=>{
  const gi=addGrid(p.box,vAxis(-3,1.6,{labels:[-2,0],ticks:[-2,0],fs:15,margin:5}),vAxis(-3,8,{labels:[0,4,8],ticks:[0,4,8],fs:15,margin:4}));
  series.push({type:'custom',xAxisIndex:gi,yAxisIndex:gi,silent:true,z:2,clip:true,data:[[0,0]],
    renderItem:function(params,api){
      const up=tF.map((t,i)=>api.coord([t,p.m[i]+p.s[i]]));
      const lo=tF.map((t,i)=>api.coord([t,p.m[i]-p.s[i]])).reverse();
      const cs=params.coordSys;
      return {type:'polygon',shape:{points:up.concat(lo)},style:{fill:'#a9a9a9'},
        clipPath:{type:'rect',shape:{x:cs.x,y:cs.y,width:cs.width,height:cs.height}}};
    }});
  const ml=lineS(gi,tF,p.m,'#000',1.6); ml.z=4;
  ml.markLine={silent:true,symbol:['none','none'],label:{show:false},lineStyle:dash,
    data:[{xAxis:-2.6},{xAxis:-1.3},{xAxis:0},{yAxis:0,lineStyle:{type:'solid',color:'#444',width:1}}]};
  series.push(ml);
});

// ================= panel g
graphics.push(T(492,854,'g',{bold:true,fs:24,align:'left'}));
graphics.push(T(598,847,'Early delay',{fs:16}));
graphics.push(T(727,847,'Late delay',{fs:16}));
graphics.push(T(512,958,'Fraction of neurons',{fs:15,rot:Math.PI/2}));
graphics.push(T(727,896,'***',{fs:18,bold:true}));
const GB='#6262ff', GR='#ff6262';
const gPanels=[
  {box:[552,884,109,134],c:gEarlyContra,cs:gEarlyContraSem,i:gEarlyIpsi,is:gEarlyIpsiSem,cd:gEarlyContraDots,id:gEarlyIpsiDots,yl:true},
  {box:[678,884,108,134],c:gLateContra,cs:gLateContraSem,i:gLateIpsi,is:gLateIpsiSem,cd:gLateContraDots,id:gLateIpsiDots,yl:false}
];
gPanels.forEach(p=>{
  const gi=addGrid(p.box,cAxis(gCats,{fs:15,margin:5}),vAxis(0,1,{interval:0.2,fs:15,margin:4,showLabel:p.yl}));
  series.push({type:'bar',name:'Contra-',xAxisIndex:gi,yAxisIndex:gi,barWidth:6,barGap:'0%',silent:true,data:p.c,itemStyle:{color:GB},
    markLine:{silent:true,symbol:['none','none'],label:{show:false},lineStyle:{type:[4,3],color:'#333',width:1.2},data:[{yAxis:0.5}],z:8}});
  series.push({type:'bar',name:'Ipsi-preferring',xAxisIndex:gi,yAxisIndex:gi,barWidth:6,silent:true,data:p.i,itemStyle:{color:GR}});
  series.push(errBar(gi,p.c,p.cs,-3,2.5));
  series.push(errBar(gi,p.i,p.is,3,2.5));
  const pc=[],pi=[];
  p.cd.forEach((arr,k)=>arr.forEach(v=>pc.push([k,v])));
  p.id.forEach((arr,k)=>arr.forEach(v=>pi.push([k,v])));
  series.push({type:'scatter',xAxisIndex:gi,yAxisIndex:gi,data:pc,symbolSize:5,symbolOffset:[-3,0],silent:true,z:6,itemStyle:{color:'rgba(255,255,255,0)',borderColor:'#999',borderWidth:1}});
  series.push({type:'scatter',xAxisIndex:gi,yAxisIndex:gi,data:pi,symbolSize:5,symbolOffset:[3,0],silent:true,z:6,itemStyle:{color:'rgba(255,255,255,0)',borderColor:'#999',borderWidth:1}});
});

const chart=echarts.init(document.getElementById('c'),null,{renderer:'canvas',width:800,height:1044});
chart.setOption({
  animation:false,backgroundColor:'#fff',textStyle:{fontFamily:FONT},
  grid:grids,xAxis:xAxes,yAxis:yAxes,series:series,
  legend:{data:['Contra-','Ipsi-preferring'],left:558,top:864,itemWidth:20,itemHeight:13,itemGap:10,icon:'rect',selectedMode:false,textStyle:{fontFamily:FONT,fontSize:15,color:'#000'},padding:0},
  graphic:{elements:graphics}
});
</script></body></html>
